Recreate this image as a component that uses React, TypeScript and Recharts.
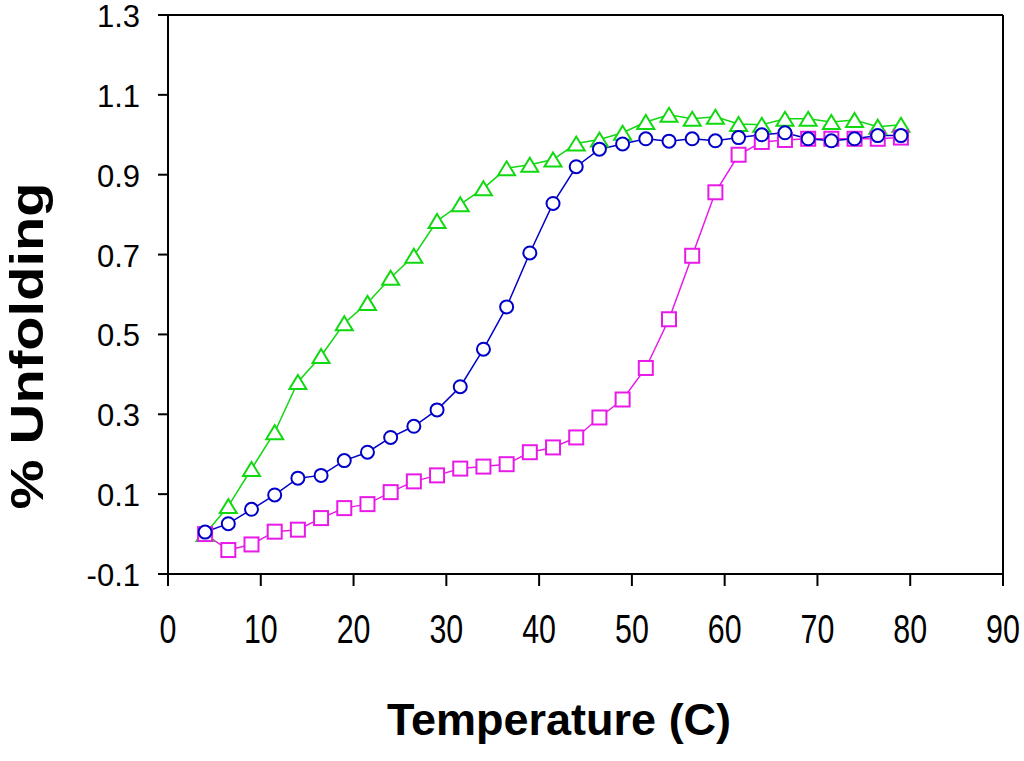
import { CartesianGrid, Line, LineChart, ReferenceLine, XAxis, YAxis } from "recharts";

// temperature (C) of each reading
const temps = [
  4, 6.5, 9, 11.5, 14, 16.5, 19, 21.5, 24, 26.5, 29, 31.5, 34, 36.5, 39, 41.5,
  44, 46.5, 49, 51.5, 54, 56.5, 59, 61.5, 64, 66.5, 69, 71.5, 74, 76.5, 79,
];

// green triangles
const greenSeries = [
  0.0, 0.07, 0.163, 0.255, 0.381, 0.446, 0.528, 0.579, 0.642, 0.697, 0.784,
  0.826, 0.866, 0.916, 0.925, 0.938, 0.978, 0.988, 1.005, 1.032, 1.05, 1.04,
  1.045, 1.027, 1.025, 1.04, 1.04, 1.032, 1.037, 1.02, 1.025,
];

// blue circles
const blueSeries = [
  0.005, 0.026, 0.062, 0.098, 0.14, 0.147, 0.184, 0.205, 0.242, 0.27, 0.311,
  0.369, 0.463, 0.569, 0.704, 0.828, 0.92, 0.964, 0.977, 0.99, 0.984, 0.99,
  0.985, 0.993, 1.0, 1.005, 0.99, 0.985, 0.99, 0.998, 0.998,
];

// magenta squares
const magentaSeries = [
  0.0, -0.04, -0.026, 0.006, 0.011, 0.04, 0.065, 0.075, 0.105, 0.132, 0.147,
  0.164, 0.169, 0.175, 0.205, 0.217, 0.242, 0.292, 0.337, 0.416, 0.538, 0.697,
  0.856, 0.95, 0.982, 0.987, 0.99, 0.99, 0.99, 0.99, 0.993,
];

const xTicks = [0, 10, 20, 30, 40, 50, 60, 70, 80, 90];
const yTicks = [-0.1, 0.1, 0.3, 0.5, 0.7, 0.9, 1.1, 1.3];

const GREEN = "#11d811";
const BLUE = "#0000c8";
const MAGENTA = "#e81ae8";
const FONT = "'Liberation Sans', Arial, sans-serif";

const rows = temps.map((t, i) => ({
  t,
  green: greenSeries[i],
  blue: blueSeries[i],
  magenta: magentaSeries[i],
}));

function TriangleDot(props: any) {
  const { cx, cy, index } = props;
  if (cx == null || cy == null) return <g key={index} />;
  return (
    <polygon
      key={index}
      points={`${cx},${cy - 7} ${cx + 8.5},${cy + 7} ${cx - 8.5},${cy + 7}`}
      fill="#fff"
      stroke={GREEN}
      strokeWidth={2}
    />
  );
}

function CircleDot(props: any) {
  const { cx, cy, index } = props;
  if (cx == null || cy == null) return <g key={index} />;
  return (
    <circle key={index} cx={cx} cy={cy} r={6.5} fill="#fff" stroke={BLUE} strokeWidth={2} />
  );
}

function SquareDot(props: any) {
  const { cx, cy, index } = props;
  if (cx == null || cy == null) return <g key={index} />;
  return (
    <rect
      key={index}
      x={cx - 7}
      y={cy - 7}
      width={14}
      height={14}
      fill="#fff"
      stroke={MAGENTA}
      strokeWidth={2}
    />
  );
}

function XTick(props: any) {
  const { x, y, payload } = props;
  return (
    <g transform={`translate(${x},${y})`}>
      <text
        transform="scale(0.76,1)"
        y={55}
        textAnchor="middle"
        fontSize={40}
        fontFamily={FONT}
        fill="#000"
      >
        {payload.value}
      </text>
    </g>
  );
}

function YTick(props: any) {
  const { x, y, payload } = props;
  return (
    <text
      x={x}
      y={y + 12}
      textAnchor="end"
      fontSize={31}
      fontFamily={FONT}
      fill="#000"
    >
      {Number(payload.value).toFixed(1)}
    </text>
  );
}

export default function App() {
  const axisStyle = { stroke: "#000", strokeWidth: 2 };

  return (
    <div
      style={{
        position: "absolute",
        left: 0,
        top: 0,
        width: 1024,
        height: 761,
        background: "#fff",
      }}
    >
      <LineChart
        width={1024}
        height={761}
        data={rows}
        margin={{ top: 15, right: 21, left: 0, bottom: 0 }}
      >
        <CartesianGrid horizontal={false} vertical={false} />
        <XAxis
          dataKey="t"
          type="number"
          domain={[0, 90]}
          ticks={xTicks}
          height={187}
          tickSize={12}
          axisLine={axisStyle}
          tickLine={axisStyle}
          tick={<XTick />}
          interval={0}
        />
        <YAxis
          type="number"
          domain={[-0.1, 1.3]}
          ticks={yTicks}
          width={168}
          tickSize={10}
          tickMargin={18}
          axisLine={axisStyle}
          tickLine={axisStyle}
          tick={<YTick />}
          interval={0}
        />
        <ReferenceLine y={1.3} stroke="#000" strokeWidth={2} />
        <ReferenceLine x={90} stroke="#000" strokeWidth={2} />
        <Line
          dataKey="green"
          type="linear"
          stroke={GREEN}
          strokeWidth={1.5}
          dot={(p: any) => <TriangleDot key={`g${p.index}`} {...p} />}
          activeDot={false}
          isAnimationActive={false}
        />
        <Line
          dataKey="magenta"
          type="linear"
          stroke={MAGENTA}
          strokeWidth={1.5}
          dot={(p: any) => <SquareDot key={`m${p.index}`} {...p} />}
          activeDot={false}
          isAnimationActive={false}
        />
        <Line
          dataKey="blue"
          type="linear"
          stroke={BLUE}
          strokeWidth={1.5}
          dot={(p: any) => <CircleDot key={`b${p.index}`} {...p} />}
          activeDot={false}
          isAnimationActive={false}
        />
      </LineChart>
      <svg
        width={1024}
        height={761}
        style={{ position: "absolute", left: 0, top: 0, pointerEvents: "none" }}
      >
        <text
          x={559}
          y={735}
          textAnchor="middle"
          fontSize={45}
          fontWeight="bold"
          fontFamily={FONT}
          fill="#000"
        >
          Temperature (C)
        </text>
        <text
          transform="translate(43,346) rotate(-90) scale(1.22,1)"
          textAnchor="middle"
          fontSize={46}
          fontWeight="bold"
          fontFamily={FONT}
          fill="#000"
        >
          % Unfolding
        </text>
      </svg>
    </div>
  );
}
